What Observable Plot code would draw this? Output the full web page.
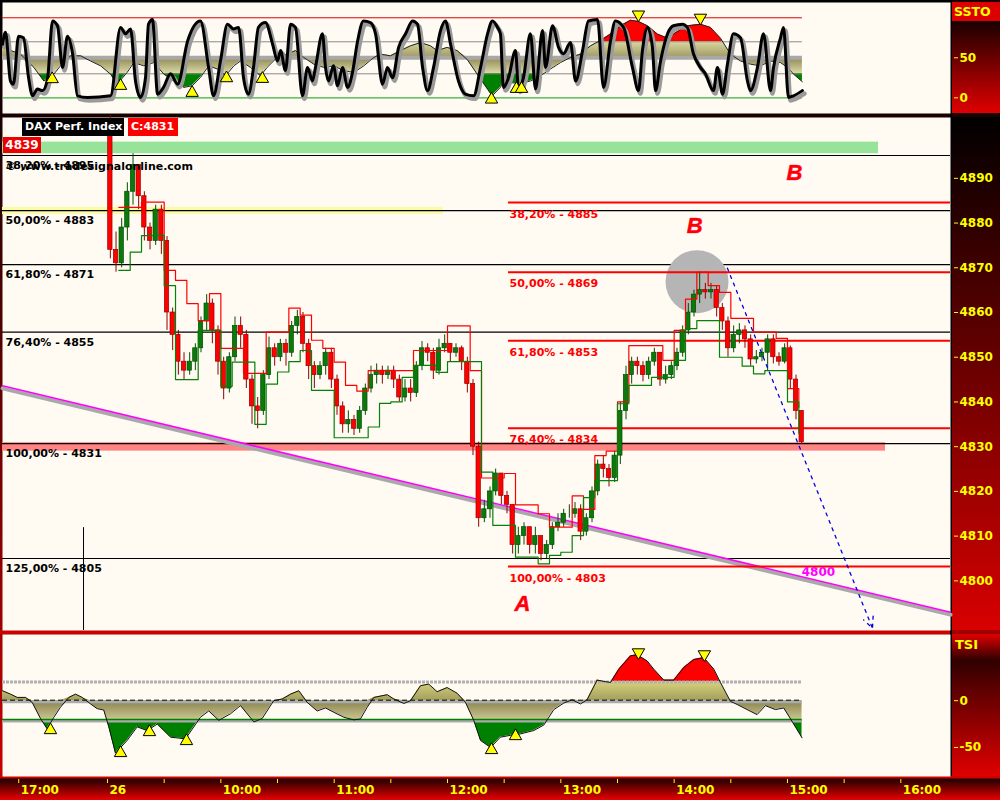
<!DOCTYPE html>
<html><head><meta charset="utf-8">
<script src="https://cdn.jsdelivr.net/npm/d3@7"></script>
<script src="https://cdn.jsdelivr.net/npm/@observablehq/plot@0.6"></script>
<style>
html,body{margin:0;padding:0;background:#000;}
#wrap{position:relative;width:1000px;height:800px;overflow:hidden;
 background:linear-gradient(to bottom,#000 0px,#1a0000 115px,#a00000 630px,#d00000 800px);
 font-family:"DejaVu Sans",sans-serif;}
.abs{position:absolute;}
</style></head><body><div id="wrap">
<div class="abs" style="left:952px;top:0;width:48px;height:113px;background:linear-gradient(to bottom,#1a0000 0px,#1a0000 21px,#e00000 113px)"></div>
<div class="abs" style="left:952px;top:2px;width:48px;height:19px;background:#dd0000"></div>
<div class="abs" style="left:952px;top:117px;width:48px;height:513px;background:linear-gradient(to bottom,#000 0%,#d80000 100%)"></div>
<div class="abs" style="left:952px;top:634px;width:48px;height:142px;background:linear-gradient(to bottom,#e00000 0px,#300000 26px,#e00000 142px)"></div>
<div class="abs" style="left:0;top:630px;width:952px;height:4px;background:#cc0000"></div>
<div class="abs" style="left:950px;top:0;width:2px;height:776px;background:#000"></div>
<div class="abs" style="left:0;top:776px;width:1000px;height:24px;background:linear-gradient(to bottom,#d00000 0px,#d00000 2px,#200000 3px,#e80000 24px)"></div>
</div>
<script>
// ---------------- shared time axis (minutes from 09:00 on the 26th) ----------------
const xDomain = [-55.6, 446.3];
const axisTicks = [-47, 0, 30, 60, 90, 120, 150, 180, 210, 240, 270, 300, 330, 360, 390, 420];
const hourTicks = [-47, 0, 60, 120, 180, 240, 300, 360, 420];
const hourLabels = ["17:00", "26", "10:00", "11:00", "12:00", "13:00", "14:00", "15:00", "16:00"];

// ---------------- SSTO oscillator ----------------
const sstoTicks = [0, 50];
const sstoLevels = [100, 70, 50, 30, 0];
const sstoT = [-55.6,-54,-51.4,-49.8,-47.1,-44.5,-41.8,-39.7,-37.1,-34.4,-31.8,-29.1,-26.5,-23.8,-21.2,-18.5,-15.9,-10.6,1.6,6.9,
 9.5,12.2,14.8,17.5,20.1,21.7,23.8,26.5,29.6,33.4,37.1,42.4,49.2,53.5,56.1,59.8,63.5,66.7,69.4,72,
 74.6,77.3,79.9,83.6,87.4,90,91.6,94.2,96.9,99.5,103.2,105.9,108.5,110.1,113.8,115.4,117,119.6,121.8,124.4,
 127.1,129.7,132.4,135.5,139.2,141.9,145.6,148.2,150.9,154.1,157.8,161.5,164.1,166.8,169.4,172.6,176.3,178.9,181.6,185.8,
 189.5,193.8,197.5,201.2,203.8,206.5,208,209.6,212.3,216,217.6,220.2,223.9,226.6,230.3,231.9,235.6,238.8,241.4,245.1,
 247.8,251.5,254.6,259.4,262.6,266.3,268.9,273.2,277.9,281.1,283.2,285.9,288.5,290.1,292.8,296.5,299.6,304.4,307,310.2,
 313.9,316.5,320.8,322.9,325.6,328.2,331.4,335.1,338.8,340.4,344.1,347.3,351,352.6,356.3,357.9,360.5,363.2,367.9];
const sstoV = [67,82,21,17,77,75,25,2.5,11,9,23,96,90,38,77,55,2.5,0.5,2.5,88,
 80,86,21,0.5,25,92,98,4.6,13,30,17,71,96,38,2.5,46,92,86,88,25,
 4.6,38,88,94,67,46,59,34,92,88,2.5,38,21,38,80,38,21,40,15,38,
 13,32,71,96,94,80,17,38,25,63,80,96,92,38,9,38,84,96,67,21,
 4.6,2.5,38,80,96,88,80,13,25,59,11,25,80,11,84,38,90,63,55,69,
 21,59,96,98,13,71,96,88,38,9,59,88,63,9,46,80,90,92,88,55,
 38,30,9,38,4.6,42,80,75,21,9,38,80,9,38,75,88,0.5,2.5,9];
const sigT = [-55.6,-46.1,-39,-33.7,-28.4,-24.9,-19.6,-14.3,-9,-3.7,1.6,5.1,10.4,13.9,19.2,24.5,29.8,35.1,40.4,44.8,
 49.2,53.6,58.1,62.5,66.9,70.4,75.7,81,84.5,89.8,95.1,99.5,103.9,109.2,114.5,119.8,125.1,130.4,135.7,141,
 144.5,149.8,155.1,160.4,165.7,171,174.5,179.8,185.1,190.4,195.7,201.2,203.6,208,209.6,213.3,218.6,223.9,229.2,234.5,
 239.8,245.1,250.4,255.7,261,266.3,271.6,276.9,281.1,285.9,291.2,296.5,301.8,307,313.9,319.2,324.5,329.8,335.1,340.4,
 345.7,351,356.3,360,363.2,367.9];
const sigV = [63,54.6,38,21,29.6,40,52.5,52.5,46,40,29.6,17,31.7,44,40,44,29.6,21,13,15,
 25.4,40,36,27.5,40,46,38,27.5,38,50.4,54.6,59,50.4,42,38,40,33.75,31.7,40,50.4,
 54.6,52.5,59,65,69,65,59,63,59,48,29.6,10.8,2.5,13,21,19,18,21,27.5,36,
 44,50.4,54.6,65,71.7,79.6,90,97,95.4,90,79.6,74.6,83,90,92,88,74.6,54.6,46,42,
 40,46,44,38,29.6,20];
const sstoMarkT = [-29.3, 6.9, 44.8, 63, 82, 203.3, 216.5, 219.2, 281.1, 313.9];
const sstoMarkV = [23.4, 15, 6.25, 24.6, 23.75, -2.1, 11.25, 11.25, 104, 100];
const sstoMarkDir = ["up","up","up","up","up","up","up","up","down","down"];

// ---------------- price panel ----------------
const priceTicks = [4800, 4810, 4820, 4830, 4840, 4850, 4860, 4870, 4880, 4890];
const barMinutes = 3;
const firstOpen = 4903;
const closes = [4874,4871,4879,4887,4893,4886,4879,4876,4883,4876,4860,4855,4849,4847,4849,4852,4858,4862,4856,4849,
 4843,4850,4857,4855,4845,4839,4838,4846,4852,4850,4853,4851,4857,4859,4853,4848,4846,4848,4851,4845,
 4839,4835,4836,4834,4838,4843,4846,4847,4846,4847,4845,4841,4843,4842,4848,4852,4851,4847,4852,4853,
 4851,4852,4849,4844,4830,4814,4816,4820,4824,4819,4817,4808,4810,4812,4808,4810,4806,4808,4812,4813,
 4815,4815,4816,4811,4814,4820,4826,4825,4823,4828,4838,4846,4849,4848,4846,4849,4851,4845,4846,4848,
 4851,4856,4860,4864,4865,4864.5,4865,4861,4858,4852,4855,4856,4854,4849.5,4850,4851,4854,4850,4849,4852,
 4845,4838,4831];
const highs = [4904,4878,4881,4889,4895.5,4893,4887,4880,4884,4884,4877,4861,4856,4851,4851,4853,4859,4864,4863,4857,
 4850,4851,4859,4859,4856,4846,4841,4847,4854.5,4853,4854,4854,4858,4860.5,4860,4854,4849,4849,4852,4852,
 4846,4840,4838,4837,4839,4844,4848,4848.5,4848,4848,4848,4846,4845,4845,4849,4853.5,4853,4852,4854,4855,
 4853,4853,4852.5,4850,4845,4831,4818,4821,4825,4824,4820,4817,4812,4813,4812,4812,4810,4809,4813,4815,
 4816,4817,4817.5,4817,4815,4821,4827,4828,4826,4829,4840,4848,4850,4850,4849,4850,4852,4851,4848,4849,
 4852,4857,4862,4865,4869,4866.5,4866.5,4866,4862,4859,4857,4857.5,4857,4855,4851.5,4852,4855,4855,4851,4853,
 4852.5,4846,4838];
const lows = [4872,4869,4870,4876,4884,4883,4876,4874,4875,4873,4856,4851.5,4846,4845,4846,4847,4851,4856,4853,4846,
 4840.5,4842,4849,4852,4843,4835,4834,4837,4845,4848,4849,4848,4850,4855,4851,4845,4843,4845,4846,4843,
 4837,4833,4833,4832.5,4833,4837,4842,4844,4844,4845,4843,4840,4840,4840,4841,4847,4849,4845,4846,4851,
 4849,4850,4847,4842,4828,4812,4813,4814,4819,4817,4815,4806,4806,4808,4806,4806,4804.5,4805,4807,4811,
 4812,4814,4814,4809,4810,4813,4819,4823,4821,4822,4826,4836,4844,4846,4844.5,4845,4848,4843.5,4844,4845,
 4847,4850,4855,4859,4862,4863,4863,4859,4856,4850,4851,4853,4852,4848,4848.5,4849,4847,4848.5,4848,4848.5,
 4843,4836,4830.5];
const stopMinutes = 6;
const redStop = [4883.5,4883.5,4884.7,4884.7,4869.4,4867.2,4862,4858.2,4864.2,4852,
 4852,4846.4,4846.4,4855.6,4855.6,4861,4859.4,4853.8,4852,4848.9,
 4843.7,4842.4,4847,4847,4847,4847,4851.5,4851.5,4851.5,4857,
 4857,4847,4823,4823,4824,4817,4817,4815,4812,4812,
 4819,4816,4828,4829,4840,4852.6,4852.6,4852.6,4849.3,4856,
 4863,4869,4866,4864.5,4858.7,4858.7,4855.6,4855.6,4854.2,4843,4838.8];
const greenStop = [4869.4,4873.5,4877.2,4877.2,4866,4845,4845,4856,4856,4843.5,
 4848.9,4848.9,4835,4844,4846.7,4849,4851.5,4842.6,4842.6,4832,
 4832,4832,4834.4,4839.7,4840,4845.5,4848.2,4848.2,4846.6,4849,
 4849,4849,4824.3,4812.4,4812.4,4805.3,4805.3,4803.8,4805.7,4806.4,
 4810.1,4818.6,4822.4,4822.4,4839.6,4843.7,4843.7,4845.5,4845.5,4849.3,
 4856.4,4858.2,4858.2,4850,4850,4848,4846.3,4847,4847,4840,4833];
const leftFibLevels = [4895.1, 4882.8, 4870.7, 4855.6, 4830.7, 4805.0];
const leftFibLabels = ["38,20% - 4895", "50,00% - 4883", "61,80% - 4871", "76,40% - 4855", "100,00% - 4831", "125,00% - 4805"];
const rightFibStart = 212.3;
const rightFibLevels = [4884.6, 4869.0, 4853.7, 4834.1, 4803.2];
const rightFibLabels = ["38,20% - 4885", "50,00% - 4869", "61,80% - 4853", "76,40% - 4834", "100,00% - 4803"];
const zoneLo = [4895.5, 4881.9, 4829.0];
const zoneHi = [4898.1, 4883.5, 4830.9];
const zoneEnd = [408.2, 177.9, 411.9];
const zoneColor = ["#98e39a", "#fbfaa6", "#ff8585"];
const trendT = [-55.6, 446.3];
const trendP = [4843.6, 4793.0];
const forecastT = [328.2, 405];
const forecastP = [4869.9, 4789.4];
const highlightT = 312.1, highlightP = 4866.9;
const waveLabels = ["B", "B", "A"];
const waveT = [363.7, 310.8, 219.7];
const waveP = [4891.1, 4879.3, 4794.8];
const targetLabel = "4800", targetT = 376.4, targetP = 4802.0;
const sessionT = -12.7, sessionP = 4811.9;
const watermark = "© www.tradesignalonline.com", watermarkP = 4892.7;

// ---------------- TSI ----------------
const tsiTicks = [0, -50];
const tsiT = [-55.6,-51.3,-47.8,-43.4,-39.9,-35.5,-32,-28.4,-24.9,-20.5,-16.9,-13.4,-9,-5.5,-2,0.7,4.2,10.4,15.7,21,
 26.3,33.4,41.3,49.2,53.6,58.9,65.1,70.4,77.5,81.9,88,92.5,96.9,101.3,105.7,111,115.4,119.8,125.1,130.4,
 133.9,137.5,141,148.1,151.6,156.9,160.4,165.7,170.1,174.5,179.8,185.1,189.5,193.9,197.5,202.8,208,213.3,218.6,225.7,
 231,236.3,241.6,246,250.4,253.9,259.2,262.7,266.3,270.7,276.9,280.4,285.7,289.2,294.5,299.8,305.1,310.4,315.7,321,
 324.5,329.8,333.3,338.6,343.9,348.3,353.6,358,362.4,367.7];
const tsiV = [10.6,7,3.5,3.5,-1.8,-19,-30,-17.7,-7,3.5,7,3.5,-3.5,-8.5,-10,-28,-56,-42.5,-28,-32,
 -25,-39,-40.8,-17.7,-11,-21,-14,-5.3,-22.7,-19,0,1.8,7,10.6,-1.8,-11,-7.8,-12.4,-17.7,-20.5,
 -19.5,-7,3.5,6.4,1.8,-3,0,16,17.7,9.6,14,8,-1.8,-21,-42.5,-50,-39,-37,-35.5,-31.9,
 -26,-9.5,-2.5,1,-3.5,1,22,20.6,19.5,33.7,48,49,42.5,33.7,22,22,35.5,44,46,33.7,
 19.5,-0.7,-4,-9.5,-14.9,-5.3,-9.5,-7.8,-22,-39.7];
const tsiMarkT = [-30.2, 6.9, 22.2, 41.8, 203.3, 216, 281.1, 316];
const tsiMarkV = [-31.4, -55.9, -33.5, -43.1, -52.7, -37.8, 51.6, 49.5];
const tsiMarkDir = ["up","up","up","up","up","up","down","down"];

// ---------------- build tables ----------------
const ssto = sstoT.map((t, i) => ({t, v: sstoV[i]}));
const sig = sigT.map((t, i) => ({t, v: sigV[i]}));
const sstoMarks = sstoMarkT.map((t, i) => ({t, v: sstoMarkV[i], dir: sstoMarkDir[i]}));
const bars = closes.map((c, i) => ({t: i * barMinutes + barMinutes / 2, o: i ? closes[i - 1] : firstOpen, c, h: highs[i], l: lows[i]}));
const upBars = bars.filter(d => d.c >= d.o), downBars = bars.filter(d => d.c < d.o);
const reds = redStop.map((v, i) => ({t: (i + 1) * stopMinutes, v}));
const greens = greenStop.map((v, i) => ({t: (i + 1) * stopMinutes, v}));
const leftFib = leftFibLevels.map((v, i) => ({v, label: leftFibLabels[i]}));
const rightFib = rightFibLevels.map((v, i) => ({v, label: rightFibLabels[i]}));
const zones = zoneLo.map((lo, i) => ({lo, hi: zoneHi[i], end: zoneEnd[i], color: zoneColor[i]}));
const trend = trendT.map((t, i) => ({t, p: trendP[i]}));
const waves = waveLabels.map((s, i) => ({s, t: waveT[i], p: waveP[i]}));
const tsi = tsiT.map((t, i) => ({t, v: tsiV[i]}));
const tsiMarks = tsiMarkT.map((t, i) => ({t, v: tsiMarkV[i], dir: tsiMarkDir[i]}));
const hourLabelOf = new Map(hourTicks.map((t, i) => [t, hourLabels[i]]));

const FONT = "DejaVu Sans";
const CREAM = "#fffbf3";
const YEL = "#ffff00";
const baseStyle = {background: "transparent", overflow: "visible", fontFamily: FONT};

function addGradient(svg, id, stops) {
  const sc = svg.scale("y");
  const top = sc.apply(sc.domain[1]), bot = sc.apply(sc.domain[0]);
  const ns = "http://www.w3.org/2000/svg";
  let defs = svg.querySelector("defs");
  if (!defs) { defs = document.createElementNS(ns, "defs"); svg.insertBefore(defs, svg.firstChild); }
  const g = document.createElementNS(ns, "linearGradient");
  g.setAttribute("id", id); g.setAttribute("gradientUnits", "userSpaceOnUse");
  g.setAttribute("x1", 0); g.setAttribute("x2", 0); g.setAttribute("y1", top); g.setAttribute("y2", bot);
  for (const [v, c] of stops) {
    const s = document.createElementNS(ns, "stop");
    s.setAttribute("offset", Math.max(0, Math.min(1, (sc.apply(v) - top) / (bot - top))));
    s.setAttribute("stop-color", c);
    g.appendChild(s);
  }
  defs.appendChild(g);
}
const tri = (data, y) => [
  Plot.dot(data.filter(d => d.dir === "up"), {x: "t", y, symbol: "triangle", r: 4.6, fill: YEL, stroke: "#000", strokeWidth: 1}),
  Plot.dot(data.filter(d => d.dir === "down"), {x: "t", y, symbol: "triangle", rotate: 180, r: 4.6, fill: YEL, stroke: "#000", strokeWidth: 1})
];

// ---------------- SSTO plot ----------------
const sx0 = sstoT[0], sx1 = sstoT[sstoT.length - 1];
const sstoPlot = Plot.plot({
  width: 1000, height: 113, marginLeft: 2, marginRight: 50, marginTop: 2, marginBottom: 0,
  style: baseStyle,
  x: {domain: xDomain, axis: null},
  y: {domain: [-19.6, 119.1], axis: null},
  marks: [
    Plot.frame({fill: CREAM, stroke: null}),
    Plot.areaY(sig, {x: "t", y1: 50, y2: d => Math.max(50, d.v), fill: "url(#sstoUp)"}),
    Plot.areaY(sig, {x: "t", y1: 50, y2: d => Math.min(50, d.v), fill: "url(#sstoDn)"}),
    Plot.ruleY([sstoLevels[0]], {x1: sx0, x2: sx1, stroke: "#dd0000", strokeWidth: 1}),
    Plot.ruleY([sstoLevels[1], sstoLevels[3]], {x1: sx0, x2: sx1, stroke: "#8a8a8a", strokeWidth: 1}),
    Plot.ruleY([sstoLevels[2]], {x1: sx0, x2: sx1, stroke: "#a8a8a8", strokeWidth: 4}),
    Plot.ruleY([sstoLevels[4]], {x1: sx0, x2: sx1, stroke: "#3cb03c", strokeWidth: 1.2}),
    Plot.line(sig, {x: "t", y: "v", stroke: "#222", strokeWidth: 1}),
    Plot.line(ssto, {x: "t", y: "v", stroke: "#9a9a9a", strokeWidth: 4.5, dx: 2, dy: 3, curve: "monotone-x"}),
    Plot.line(ssto, {x: "t", y: "v", stroke: "#000", strokeWidth: 3, curve: "monotone-x", strokeLinejoin: "round"}),
    ...tri(sstoMarks, "v"),
    Plot.axisY({anchor: "right", ticks: sstoTicks, tickSize: 4, tickPadding: 2, dx: 3, stroke: YEL, fill: YEL,
      fontSize: 12, fontWeight: "bold", fontFamily: FONT, tickFormat: d => String(d), label: null})
  ]
});

// ---------------- price plot ----------------
const pricePlot = Plot.plot({
  width: 1000, height: 520, marginLeft: 2, marginRight: 50, marginTop: 4, marginBottom: 3,
  style: baseStyle,
  color: {type: "identity"},
  x: {domain: xDomain, axis: null},
  y: {domain: [4788.9, 4903.6], axis: null},
  marks: [
    Plot.frame({fill: CREAM, stroke: null}),
    Plot.rect(zones, {x1: xDomain[0], x2: "end", y1: "lo", y2: "hi", fill: "color"}),
    Plot.ruleY(leftFib, {y: "v", stroke: "#000", strokeWidth: 1.2}),
    Plot.line(trend, {x: "t", y: "p", stroke: "#a9a9a9", strokeWidth: 4, dy: 2.5}),
    Plot.line(trend, {x: "t", y: "p", stroke: "#ff00ff", strokeWidth: 1.5}),
    Plot.dot([{t: highlightT, p: highlightP}], {x: "t", y: "p", r: 31.5, fill: "#b5b5b5", stroke: null}),
    Plot.ruleY(rightFib, {y: "v", x1: rightFibStart, x2: xDomain[1], stroke: "#ff0000", strokeWidth: 2}),
    Plot.ruleX([sessionT], {y1: sessionP, y2: 4788.9, stroke: "#000", strokeWidth: 1}),
    Plot.ruleX(downBars, {x: "t", y1: "l", y2: "h", stroke: "#8a0000", strokeWidth: 1}),
    Plot.ruleX(upBars, {x: "t", y1: "l", y2: "h", stroke: "#034d03", strokeWidth: 1}),
    Plot.rect(downBars, {x1: d => d.t - 1.15, x2: d => d.t + 1.15, y1: "o", y2: "c", fill: "#ff0000", stroke: "#9a0000", strokeWidth: 0.7}),
    Plot.rect(upBars, {x1: d => d.t - 1.15, x2: d => d.t + 1.15, y1: "o", y2: "c", fill: "#0b7a0b", stroke: "#034d03", strokeWidth: 0.7}),
    Plot.line(reds, {x: "t", y: "v", stroke: "#ff0000", strokeWidth: 1.2, curve: "step-after"}),
    Plot.line(greens, {x: "t", y: "v", stroke: "#068006", strokeWidth: 1.2, curve: "step-after"}),
    Plot.arrow([{x1: forecastT[0], y1: forecastP[0], x2: forecastT[1], y2: forecastP[1]}],
      {x1: "x1", y1: "y1", x2: "x2", y2: "y2", stroke: "#0000e0", strokeWidth: 1.3, strokeDasharray: "3,5", headLength: 14, headAngle: 50}),
    Plot.text(leftFib, {y: "v", frameAnchor: "left", textAnchor: "start", dx: 3, dy: 10, text: "label",
      fill: "#000", fontWeight: "bold", fontSize: 11, fontFamily: FONT}),
    Plot.text([{p: watermarkP}], {y: "p", frameAnchor: "left", textAnchor: "start", dx: 3, text: () => watermark,
      fill: "#000", fontWeight: "bold", fontSize: 11, fontFamily: FONT}),
    Plot.text(rightFib, {x: rightFibStart, y: "v", textAnchor: "start", dx: 1, dy: 11.5, text: "label",
      fill: "#ff0000", fontWeight: "bold", fontSize: 11, fontFamily: FONT}),
    Plot.text([{t: targetT, p: targetP}], {x: "t", y: "p", text: () => targetLabel, fill: "#ff00ff",
      fontWeight: "bold", fontSize: 12, fontFamily: FONT}),
    Plot.text(waves, {x: "t", y: "p", text: "s", fill: "#ff0000", stroke: "#ff3fa0", strokeWidth: 0.6,
      fontSize: 22, fontWeight: "bold", fontStyle: "italic", fontFamily: "Liberation Sans"}),
    Plot.axisY({anchor: "right", ticks: priceTicks, tickSize: 4, tickPadding: 2, dx: 3, stroke: YEL, fill: YEL,
      fontSize: 12, fontWeight: "bold", fontFamily: FONT, tickFormat: d => String(d), label: null})
  ]
});

// ---------------- TSI plot ----------------
const tx0 = tsiT[0], tx1 = tsiT[tsiT.length - 1];
const tsiPlot = Plot.plot({
  width: 1000, height: 167, marginLeft: 2, marginRight: 50, marginTop: 1, marginBottom: 24,
  style: baseStyle,
  x: {domain: xDomain, axis: null},
  y: {domain: [-81, 70.7], axis: null},
  marks: [
    Plot.frame({fill: CREAM, stroke: null}),
    Plot.areaY(tsi, {x: "t", y1: 0, y2: d => Math.max(0, d.v), fill: "url(#tsiUp)"}),
    Plot.areaY(tsi, {x: "t", y1: 0, y2: d => Math.min(0, d.v), fill: "url(#tsiDn)"}),
    Plot.ruleY([20], {x1: tx0, x2: tx1, stroke: "#b0b0b0", strokeWidth: 3, strokeDasharray: "3,1"}),
    Plot.ruleY([0], {x1: tx0, x2: tx1, stroke: "#ababab", strokeWidth: 3, dy: 1}),
    Plot.ruleY([0], {x1: tx0, x2: tx1, stroke: "#000", strokeWidth: 1, strokeDasharray: "5,3", dy: -0.5}),
    Plot.ruleY([-20], {x1: tx0, x2: tx1, stroke: "#ababab", strokeWidth: 3, dy: 1.5}),
    Plot.ruleY([-20], {x1: tx0, x2: tx1, stroke: "#008000", strokeWidth: 1.5}),
    Plot.line(tsi, {x: "t", y: "v", stroke: "#111", strokeWidth: 1}),
    ...tri(tsiMarks, "v"),
    Plot.axisY({anchor: "right", ticks: tsiTicks, tickSize: 4, tickPadding: 2, dx: 3, stroke: YEL, fill: YEL,
      fontSize: 12, fontWeight: "bold", fontFamily: FONT, tickFormat: d => String(d), label: null}),
    Plot.axisX({anchor: "bottom", ticks: axisTicks, tickSize: 4, dy: 3, stroke: YEL, tickFormat: () => "", label: null}),
    Plot.axisX({anchor: "bottom", ticks: hourTicks, tickSize: 0, tickPadding: 9, textAnchor: "start", dx: 2,
      fill: YEL, fontSize: 12, fontWeight: "bold", fontFamily: FONT, tickFormat: d => hourLabelOf.get(d), label: null})
  ]
});

addGradient(sstoPlot, "sstoUp", [[119.1, "#ff0000"], [70, "#ff0000"], [70, "#dcd8a2"], [50, "#9e9962"]]);
addGradient(sstoPlot, "sstoDn", [[50, "#8c8752"], [30, "#dedaa8"], [30, "#008000"], [-19.6, "#008000"]]);
addGradient(tsiPlot, "tsiUp", [[70.7, "#ff0000"], [20, "#ff0000"], [20, "#d8d27c"], [0, "#a39e5e"]]);
addGradient(tsiPlot, "tsiDn", [[0, "#88834e"], [-20, "#c9c48e"], [-20, "#008000"], [-81, "#008000"]]);

const wrap = document.getElementById("wrap");
[[sstoPlot, 0], [pricePlot, 113], [tsiPlot, 633]].forEach(([svg, top]) => {
  svg.style.position = "absolute"; svg.style.left = "0px"; svg.style.top = top + "px";
  wrap.appendChild(svg);
});

// ---------------- labels drawn as boxes ----------------
function box(text, css) {
  const d = document.createElement("div");
  d.className = "abs"; d.textContent = text;
  d.style.cssText += ";position:absolute;font-family:'DejaVu Sans';font-weight:bold;white-space:nowrap;overflow:hidden;" + css;
  wrap.appendChild(d);
}
box("SSTO", "left:952px;top:2px;width:48px;height:19px;line-height:19px;padding-left:2px;box-sizing:border-box;color:#ffff00;font-size:12.5px;");
box("TSI", "left:952px;top:634px;width:48px;height:22px;line-height:22px;padding-left:3px;box-sizing:border-box;color:#ffff00;font-size:13px;");
box("DAX Perf. Index", "left:22px;top:118px;height:18px;line-height:18px;padding:0 2px 0 3px;background:#000;color:#fff;font-size:11px;");
box("C:4831", "left:128px;top:118px;width:50px;height:18px;line-height:18px;padding-left:3px;box-sizing:border-box;background:#ff0000;color:#fff;font-size:11px;");
box("4839", "left:3px;top:137px;width:38px;height:16px;line-height:16px;text-align:center;background:#ee0000;color:#fff;font-size:12px;");
</script>
</body></html>
